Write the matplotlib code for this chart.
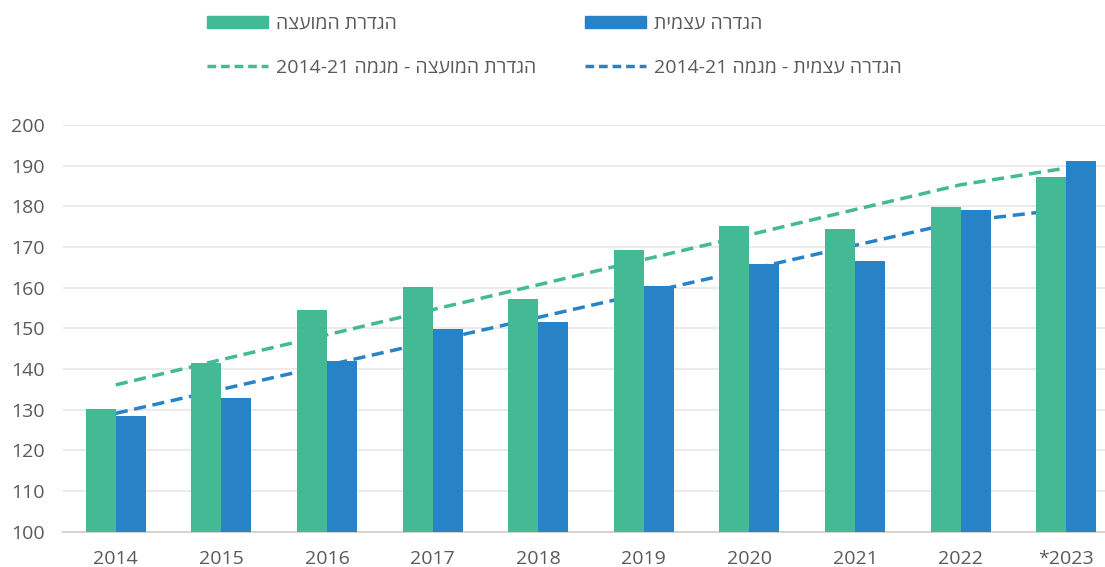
import matplotlib
matplotlib.use("Agg")
import matplotlib.pyplot as plt
import numpy as np
from matplotlib.patches import Patch
from matplotlib.lines import Line2D

plt.rcParams['font.family'] = ['Open Sans', 'DejaVu Sans']

years = ["2014", "2015", "2016", "2017", "2018", "2019", "2020", "2021", "2022", "*2023"]
council_def = [130.2, 141.4, 154.6, 160.1, 157.2, 169.3, 175.2, 174.4, 179.8, 187.1]
self_def = [128.5, 132.8, 142.0, 149.8, 151.6, 160.4, 165.9, 166.6, 179.2, 191.1]
council_trend = [136.1, 142.3, 148.4, 154.6, 160.7, 166.9, 173.0, 179.2, 185.3, 189.4]
self_trend = [129.1, 135.0, 140.9, 146.8, 152.7, 158.6, 164.5, 170.4, 176.3, 179.3]

def heb(s):
    # visual order for left-to-right rendering
    return s[::-1]

lbl_council = heb("הגדרת המועצה")
lbl_self = heb("הגדרה עצמית")
lbl_council_tr = "2014-21" + heb("הגדרת המועצה - מגמה ")
lbl_self_tr = "2014-21" + heb("הגדרה עצמית - מגמה ")

GREEN = "#43B994"
BLUE = "#2882C6"
TXT = "#595959"
DASH = (0, (3.5, 1.9))
LDASH = (0, (2.5, 1.4))

fig = plt.figure(figsize=(11.05, 5.67), dpi=100)
ax = fig.add_axes([63/1105, 35.3/567, 1 - 63/1105, (531.7-125)/567])

x = np.arange(len(years))
w = 0.285
ax.bar(x - w/2, council_def, width=w, color=GREEN, zorder=3)
ax.bar(x + w/2, self_def, width=w, color=BLUE, zorder=3)
ax.plot(x, council_trend, color=GREEN, lw=2.5, ls=DASH, zorder=2)
ax.plot(x, self_trend, color=BLUE, lw=2.5, ls=DASH, zorder=2)

ax.set_ylim(100, 200)
ax.set_xlim(-0.5, 9.5 - 14/105.6)
ax.set_yticks(np.arange(100, 201, 10))
ax.set_xticks(x)
ax.set_xticklabels(years)
ax.yaxis.grid(True, color="#E8E8E8", lw=1.2, zorder=0)
ax.set_axisbelow(True)
for s in ["top", "right", "left"]:
    ax.spines[s].set_visible(False)
ax.spines["bottom"].set_color("#D0D0D0")
ax.spines["bottom"].set_linewidth(1.3)
ax.tick_params(axis="both", length=0, colors=TXT, labelsize=14)
ax.tick_params(axis="y", pad=13)
ax.tick_params(axis="x", pad=13)

common = dict(loc="upper left", frameon=False, fontsize=14, handlelength=3.15,
              handleheight=0.57, labelspacing=1.3, handletextpad=0.4,
              borderpad=0, borderaxespad=0, labelcolor=TXT)
leg1 = fig.legend([Patch(color=GREEN), Line2D([], [], color=GREEN, lw=2.5, ls=LDASH)],
                  [lbl_council, lbl_council_tr],
                  bbox_to_anchor=(207/1105, 1 - 15/567), **common)
leg2 = fig.legend([Patch(color=BLUE), Line2D([], [], color=BLUE, lw=2.5, ls=LDASH)],
                  [lbl_self, lbl_self_tr],
                  bbox_to_anchor=(585/1105, 1 - 15/567), **common)

fig.savefig("out.png", dpi=100)
